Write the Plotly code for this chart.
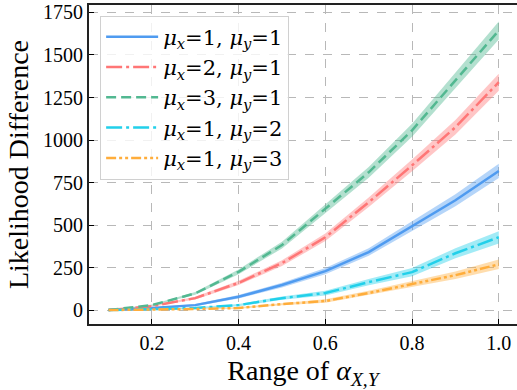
import plotly.graph_objects as go

x_vals = [0.1, 0.2, 0.3, 0.4, 0.5, 0.6, 0.7, 0.8, 0.9, 1.0]

labels = [
    "<i>μ</i><sub><i>x</i></sub>=1, <i>μ</i><sub><i>y</i></sub>=1",
    "<i>μ</i><sub><i>x</i></sub>=2, <i>μ</i><sub><i>y</i></sub>=1",
    "<i>μ</i><sub><i>x</i></sub>=3, <i>μ</i><sub><i>y</i></sub>=1",
    "<i>μ</i><sub><i>x</i></sub>=1, <i>μ</i><sub><i>y</i></sub>=2",
    "<i>μ</i><sub><i>x</i></sub>=1, <i>μ</i><sub><i>y</i></sub>=3",
]

mean_11 = [0, 12, 29, 78, 147, 229, 341, 493, 646, 818]
mean_21 = [0, 23, 70, 160, 276, 428, 634, 851, 1075, 1340]
mean_31 = [0, 29, 98, 225, 382, 595, 810, 1057, 1350, 1644]
mean_12 = [0, 4, 12, 29, 70, 100, 164, 223, 334, 428]
mean_13 = [0, 2, 6, 12, 35, 53, 100, 153, 205, 269]

std_11 = [1, 3, 6, 10, 14, 18, 22, 28, 35, 42]
std_21 = [1, 4, 8, 12, 17, 22, 28, 35, 42, 50]
std_31 = [1, 4, 8, 14, 20, 26, 32, 38, 45, 53]
std_12 = [1, 2, 4, 7, 10, 14, 18, 24, 30, 36]
std_13 = [1, 2, 3, 5, 7, 10, 13, 17, 22, 28]

y_ticks = [0, 250, 500, 750, 1000, 1250, 1500, 1750]
x_ticks = [0.2, 0.4, 0.6, 0.8, 1.0]

series = [
    (labels[0], mean_11, std_11, "#4f9bf0", "rgba(79,155,240,0.42)", "solid"),
    (labels[1], mean_21, std_21, "#ff7676", "rgba(255,118,118,0.42)", "16px,4px,3px,4px"),
    (labels[2], mean_31, std_31, "#52b891", "rgba(82,184,145,0.44)", "10px,5px"),
    (labels[3], mean_12, std_12, "#22d0ea", "rgba(34,208,234,0.42)", "16px,4px,3px,4px"),
    (labels[4], mean_13, std_13, "#ffad3b", "rgba(255,173,59,0.42)", "10px,3px,3px,3px,3px,3px"),
]

fig = go.Figure()

for name, m, s, col, fcol, dash in series:
    upper = [a + b for a, b in zip(m, s)]
    lower = [a - b for a, b in zip(m, s)]
    fig.add_trace(go.Scatter(x=x_vals + x_vals[::-1], y=upper + lower[::-1],
                             fill="toself", fillcolor=fcol, line=dict(width=0),
                             mode="lines", showlegend=False, hoverinfo="skip"))

for name, m, s, col, fcol, dash in series:
    fig.add_trace(go.Scatter(x=x_vals, y=m, mode="lines", name=name,
                             line=dict(color=col, width=2.5, dash=dash)))

font_family = "Liberation Serif"

fig.update_layout(
    width=517, height=390,
    margin=dict(l=89, r=0, t=5, b=66),
    paper_bgcolor="white", plot_bgcolor="white",
    font=dict(family=font_family, color="black", size=19),
    showlegend=True,
    legend=dict(
        x=0.026, y=0.967, xanchor="left", yanchor="top",
        bgcolor="rgba(255,255,255,0.8)", bordercolor="#d0d0d0", borderwidth=1,
        font=dict(family="DejaVu Serif", size=21, color="black"),
        tracegroupgap=0, itemwidth=52,
    ),
    xaxis=dict(
        range=[0.055, 1.042], tickvals=x_ticks, ticktext=["0.2", "0.4", "0.6", "0.8", "1.0"],
        ticks="inside", ticklen=5, tickwidth=1.3, tickcolor="black",
        showline=True, linecolor="#222", linewidth=1.8, mirror=True,
        showgrid=True, gridcolor="#b8b8b8", gridwidth=1, griddash="dash",
        zeroline=False, automargin=False,
        title=dict(text="Range of <i>α</i><sub><i>X,Y</i></sub>", font=dict(size=28), standoff=8),
        tickfont=dict(size=20),
    ),
    yaxis=dict(
        range=[-82, 1794], tickvals=y_ticks,
        ticks="inside", ticklen=5, tickwidth=1.3, tickcolor="black",
        showline=True, linecolor="#222", linewidth=1.8, mirror=False,
        showgrid=True, gridcolor="#b8b8b8", gridwidth=1, griddash="dash",
        zeroline=False, automargin=False,
        title=dict(text="Likelihood Difference", font=dict(size=28), standoff=6),
        tickfont=dict(size=20),
    ),
)

fig.write_html("out.html", config={"displayModeBar": False},
               post_script="document.body.style.margin='0px';document.body.style.overflow='hidden';")
